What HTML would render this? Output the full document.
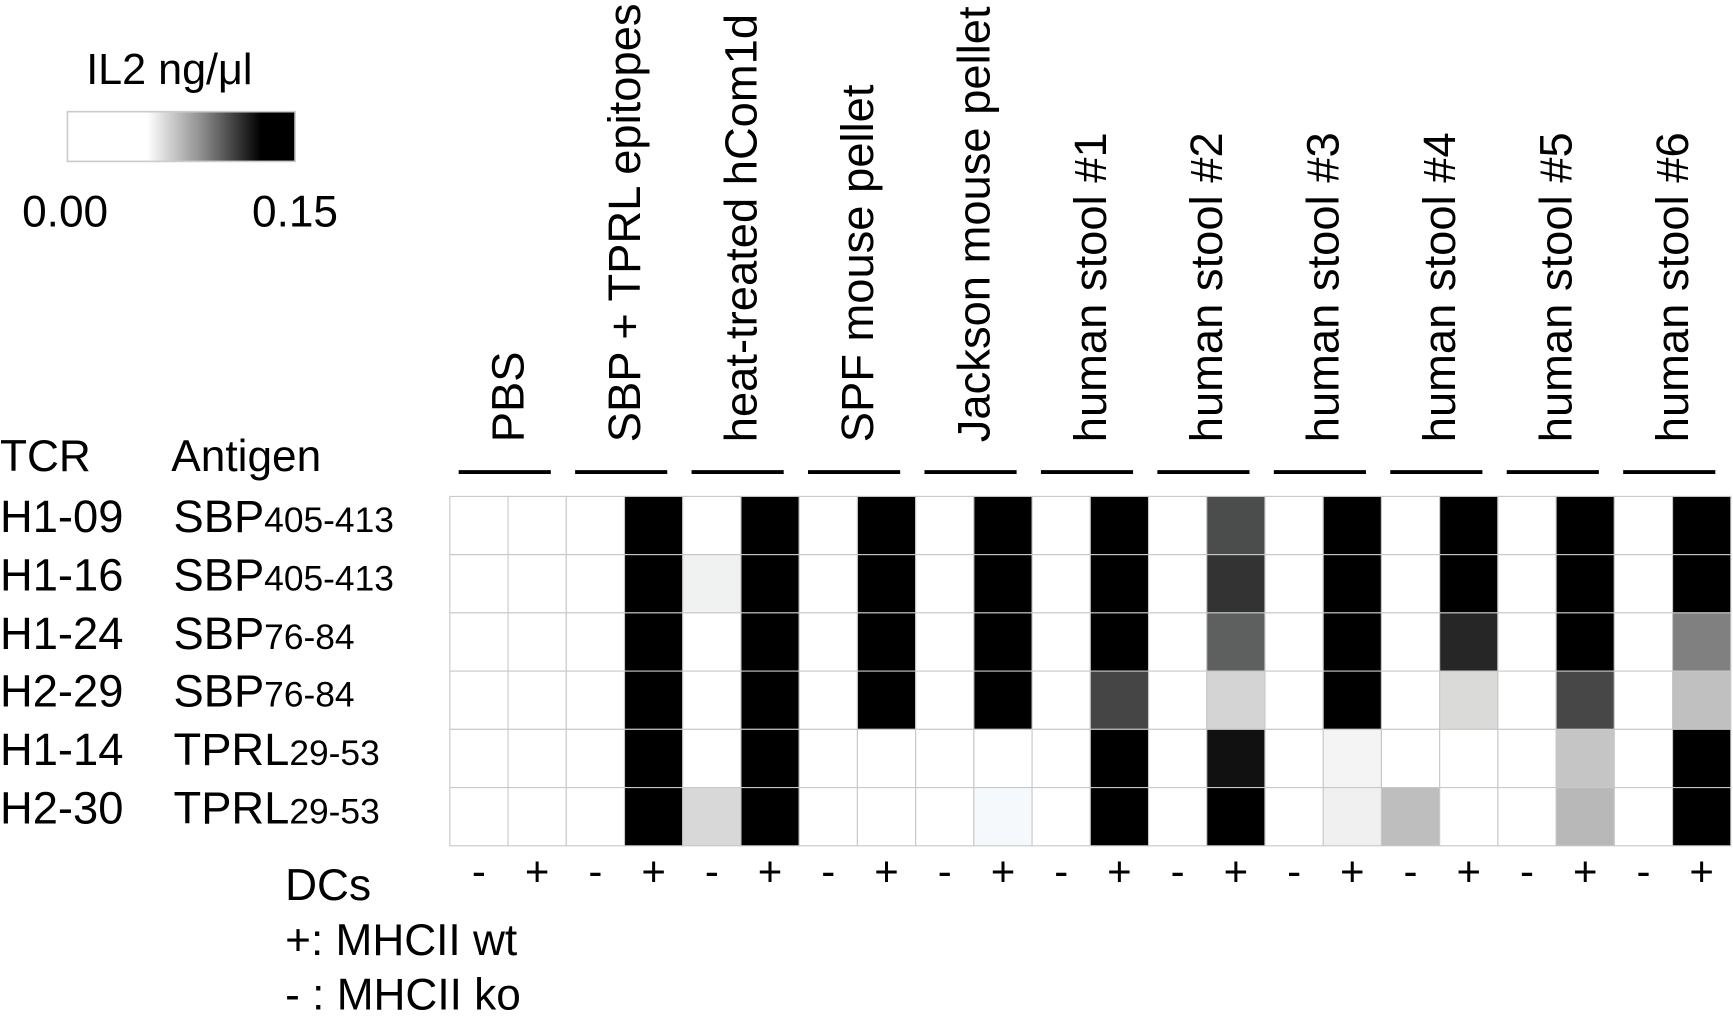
<!DOCTYPE html>
<html><head><meta charset="utf-8"><style>
html,body{margin:0;padding:0;background:#fff;}
svg{display:block;}
text{font-family:"Liberation Sans",Arial,sans-serif;fill:#000;}
</style></head><body>
<svg width="1733" height="1026" viewBox="0 0 1568 928" xmlns="http://www.w3.org/2000/svg" preserveAspectRatio="none">
<defs>
<linearGradient id="cb" x1="0" x2="1" y1="0" y2="0">
<stop offset="0" stop-color="#fff"/><stop offset="0.35" stop-color="#fff"/>
<stop offset="0.6" stop-color="#888"/><stop offset="0.85" stop-color="#000"/><stop offset="1" stop-color="#000"/>
</linearGradient>
</defs>
<text x="78" y="76" font-size="39">IL2 ng/μl</text>
<rect x="61" y="101" width="206" height="45" fill="url(#cb)" stroke="#ccc" stroke-width="1.5"/>
<text x="20" y="205" font-size="40">0.00</text>
<text x="228" y="205" font-size="40">0.15</text>

<text x="0" y="426" font-size="40">TCR</text>
<text x="155" y="426" font-size="40">Antigen</text>
<g font-size="41">
<text x="0" y="481">H1-09</text><text x="157" y="481">SBP<tspan font-size="32">405-413</tspan></text>
<text x="0" y="534">H1-16</text><text x="157" y="534">SBP<tspan font-size="32">405-413</tspan></text>
<text x="0" y="587">H1-24</text><text x="157" y="587">SBP<tspan font-size="32">76-84</tspan></text>
<text x="0" y="639">H2-29</text><text x="157" y="639">SBP<tspan font-size="32">76-84</tspan></text>
<text x="0" y="692">H1-14</text><text x="157" y="692">TPRL<tspan font-size="32">29-53</tspan></text>
<text x="0" y="745">H2-30</text><text x="157" y="745">TPRL<tspan font-size="32">29-53</tspan></text>
</g>
<text x="258" y="814" font-size="40">DCs</text>
<text x="258" y="864" font-size="40">+: MHCII wt</text>
<text x="258" y="913" font-size="40">- : MHCII ko</text>

<g id="cells"></g>
<g id="hdr"></g>
</svg>
<script>
(function(){
var ns="http://www.w3.org/2000/svg";
var x0=407,y0=449,w=(1566-407)/22,h=(765-449)/6;
var W="#fff",B="#000";
var cols=[
[W,W,W,W,W,W],[W,W,W,W,W,W],
[W,W,W,W,W,W],[B,B,B,B,B,B],
[W,"#eff2f0",W,W,W,"#d8d8d8"],[B,B,B,B,B,B],
[W,W,W,W,W,W],[B,B,B,B,W,W],
[W,W,W,W,W,W],[B,B,B,B,W,"#f6f9fc"],
[W,W,W,W,W,W],[B,B,B,"#454545",B,B],
[W,W,W,W,W,W],["#4b4d4c","#333","#5d605f","#d4d4d4","#111",B],
[W,W,W,W,W,W],[B,B,B,B,"#f3f4f3","#f0f0f0"],
[W,W,W,W,W,"#bebebe"],[B,B,"#262626","#dadad8",W,W],
[W,W,W,W,W,W],[B,B,B,"#474747","#c5c5c5","#b8b8b8"],
[W,W,W,W,W,W],[B,B,"#808080","#c0c0c0",B,B]
];
var g=document.getElementById("cells");
function el(t,a,p){var e=document.createElementNS(ns,t);for(var k in a)e.setAttribute(k,a[k]);(p||g).appendChild(e);return e;}
for(var c=0;c<22;c++)for(var r=0;r<6;r++){
 el("rect",{x:x0+c*w,y:y0+r*h,width:w,height:h,fill:cols[c][r],stroke:"#c8c8c8","stroke-width":1});
}
var labels=["PBS","SBP + TPRL epitopes","heat-treated hCom1d","SPF mouse pellet","Jackson mouse pellet","human stool #1","human stool #2","human stool #3","human stool #4","human stool #5","human stool #6"];
var hg=document.getElementById("hdr");
for(var p=0;p<11;p++){
 var L=x0+p*2*w, cx=L+w;
 el("line",{x1:L+8,x2:L+2*w-14,y1:427,y2:427,stroke:"#000","stroke-width":3.5},hg);
 var t=el("text",{x:0,y:0,"font-size":41,transform:"translate("+(cx+14)+",400) rotate(-90)"},hg);
 t.textContent=labels[p];
 var m=el("text",{x:x0+(2*p+0.5)*w,y:801,"font-size":38,"text-anchor":"middle"},hg);m.textContent="-";
 var pl=el("text",{x:x0+(2*p+1.5)*w,y:801,"font-size":38,"text-anchor":"middle"},hg);pl.textContent="+";
}
})();
</script>
</body></html>
